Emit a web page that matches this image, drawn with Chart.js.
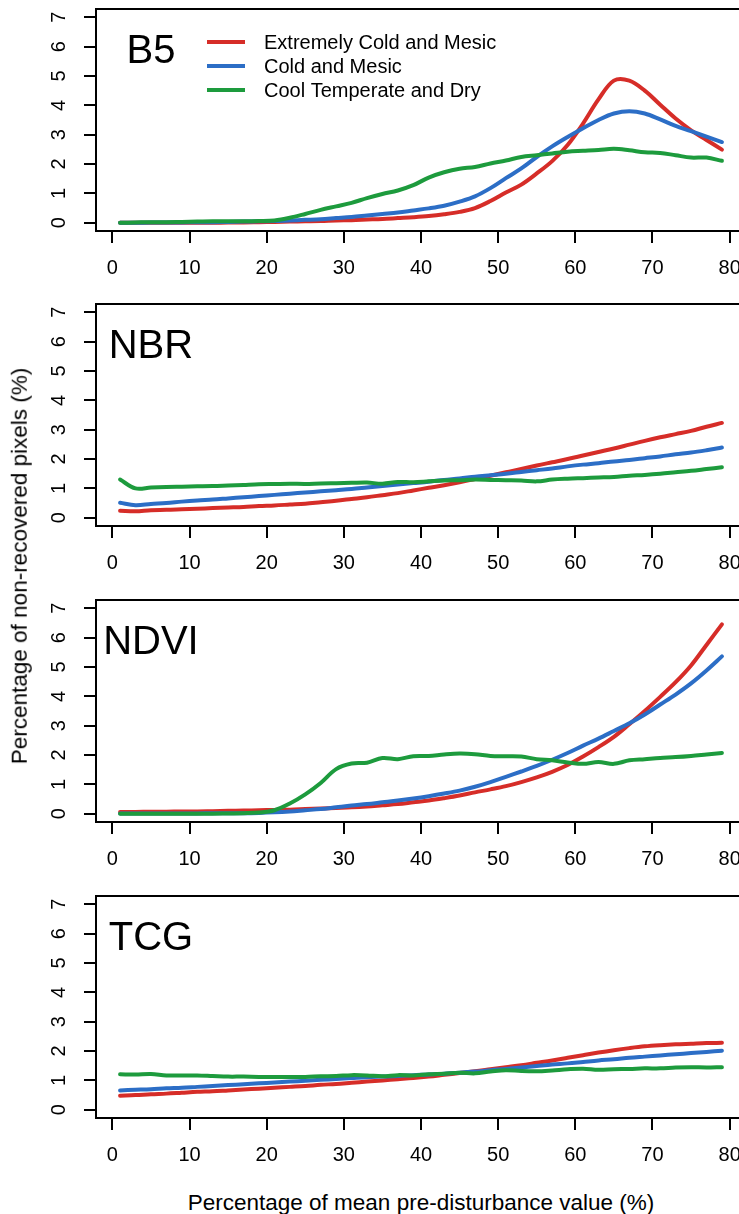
<!DOCTYPE html>
<html>
<head>
<meta charset="utf-8">
<script src="https://cdn.jsdelivr.net/npm/chart.js@4.4.1/dist/chart.umd.min.js"></script>
<style>
  html, body { margin: 0; padding: 0; background: #fff; }
  body { width: 739px; height: 1214px; overflow: hidden; position: relative; font-family: "Liberation Sans", Arial, sans-serif; }
  canvas { position: absolute; left: 0; }
  .title { position: absolute; white-space: nowrap; font-size: 22.5px; line-height: 1; color: #000; }
  #ytitle { left: 20px; top: 566px; transform: translate(-50%, -50%) rotate(-90deg); }
  #xtitle { left: 421px; top: 1203px; transform: translate(-50%, -50%); }
</style>
</head>
<body>
<canvas id="c0" width="760" height="296" style="top:0px"></canvas>
<canvas id="c1" width="760" height="296" style="top:295px"></canvas>
<canvas id="c2" width="760" height="296" style="top:591px"></canvas>
<canvas id="c3" width="760" height="296" style="top:887px"></canvas>
<div class="title" id="ytitle">Percentage of non-recovered pixels (%)</div>
<div class="title" id="xtitle">Percentage of mean pre-disturbance value (%)</div>
<script>
// ---------------- data ----------------
const xValues = [1,3,5,7,9,11,13,15,17,19,21,23,25,27,29,31,33,35,37,39,41,43,45,47,49,51,53,55,57,59,61,63,65,67,69,71,73,75,77,79];
const xTicks = [0,10,20,30,40,50,60,70,80];
const yTicks = [0,1,2,3,4,5,6,7];
const seriesNames = ["Extremely Cold and Mesic", "Cold and Mesic", "Cool Temperate and Dry"];
const panelNames = ["B5", "NBR", "NDVI", "TCG"];

const b5Red   = [0,0,0,0,0,0,0,0.01,0.01,0.02,0.03,0.04,0.05,0.06,0.08,0.09,0.11,0.13,0.16,0.19,0.23,0.29,0.37,0.5,0.74,1.03,1.3,1.68,2.1,2.65,3.38,4.2,4.84,4.84,4.5,4.02,3.55,3.15,2.82,2.49];
const b5Blue  = [0,0,0.01,0.01,0.01,0.02,0.02,0.03,0.04,0.05,0.06,0.08,0.1,0.12,0.16,0.2,0.25,0.3,0.35,0.42,0.49,0.58,0.72,0.9,1.18,1.52,1.85,2.24,2.6,2.92,3.22,3.5,3.72,3.8,3.72,3.52,3.3,3.12,2.93,2.75];
const b5Green = [0,0.01,0.02,0.02,0.03,0.04,0.05,0.05,0.05,0.06,0.08,0.17,0.3,0.44,0.56,0.68,0.84,0.98,1.1,1.28,1.54,1.72,1.84,1.9,2.02,2.12,2.24,2.3,2.36,2.42,2.45,2.48,2.52,2.47,2.4,2.38,2.3,2.22,2.22,2.11];

const nbrRed   = [0.24,0.22,0.26,0.27,0.29,0.31,0.33,0.35,0.37,0.4,0.42,0.45,0.48,0.53,0.58,0.64,0.7,0.77,0.84,0.93,1.02,1.11,1.21,1.32,1.43,1.55,1.66,1.78,1.89,2.0,2.12,2.24,2.36,2.49,2.62,2.74,2.85,2.96,3.1,3.23];
const nbrBlue  = [0.51,0.43,0.47,0.5,0.55,0.59,0.62,0.66,0.7,0.74,0.78,0.82,0.86,0.9,0.94,0.98,1.03,1.08,1.13,1.18,1.23,1.29,1.34,1.4,1.45,1.5,1.56,1.62,1.68,1.75,1.81,1.86,1.92,1.97,2.03,2.09,2.16,2.22,2.3,2.39];
const nbrGreen = [1.3,1.0,1.03,1.05,1.06,1.07,1.08,1.1,1.12,1.14,1.15,1.16,1.15,1.17,1.18,1.19,1.2,1.16,1.22,1.21,1.24,1.27,1.28,1.3,1.29,1.28,1.27,1.24,1.3,1.33,1.35,1.37,1.39,1.43,1.46,1.5,1.55,1.6,1.66,1.72];

const ndviRed   = [0.06,0.06,0.07,0.07,0.08,0.08,0.09,0.1,0.11,0.12,0.13,0.14,0.16,0.18,0.2,0.22,0.25,0.29,0.33,0.39,0.45,0.53,0.62,0.73,0.83,0.94,1.08,1.24,1.43,1.66,1.95,2.27,2.62,3.05,3.5,3.98,4.48,5.05,5.75,6.45];
const ndviBlue  = [0.01,0.01,0.01,0.01,0.01,0.01,0.02,0.02,0.02,0.03,0.05,0.08,0.12,0.16,0.22,0.28,0.33,0.39,0.45,0.52,0.6,0.69,0.79,0.92,1.08,1.26,1.44,1.63,1.84,2.07,2.32,2.56,2.82,3.08,3.38,3.72,4.06,4.44,4.88,5.36];
const ndviGreen = [0,0,0,0,0,0,0,0.01,0.02,0.04,0.12,0.35,0.66,1.05,1.52,1.71,1.74,1.9,1.86,1.96,1.97,2.02,2.05,2.03,1.97,1.96,1.95,1.86,1.82,1.75,1.7,1.76,1.7,1.82,1.86,1.9,1.93,1.97,2.02,2.07];

const tcgRed   = [0.48,0.5,0.53,0.55,0.58,0.61,0.63,0.66,0.69,0.72,0.75,0.78,0.81,0.85,0.88,0.92,0.96,1.0,1.04,1.08,1.13,1.19,1.25,1.31,1.38,1.45,1.52,1.6,1.68,1.77,1.86,1.95,2.03,2.1,2.16,2.2,2.23,2.25,2.27,2.28];
const tcgBlue  = [0.66,0.68,0.7,0.73,0.75,0.78,0.81,0.84,0.87,0.9,0.93,0.96,0.99,1.02,1.05,1.08,1.11,1.13,1.15,1.18,1.2,1.23,1.26,1.3,1.35,1.39,1.44,1.49,1.54,1.58,1.63,1.68,1.72,1.77,1.81,1.85,1.89,1.93,1.97,2.01];
const tcgGreen = [1.21,1.2,1.22,1.17,1.17,1.17,1.15,1.13,1.13,1.12,1.12,1.12,1.12,1.14,1.15,1.18,1.17,1.14,1.18,1.17,1.21,1.23,1.26,1.24,1.3,1.35,1.32,1.31,1.34,1.38,1.4,1.36,1.38,1.39,1.41,1.41,1.44,1.45,1.44,1.45];

// ---------------- styling ----------------
const COLORS = ["#d62d28", "#2c6ec6", "#1d9b3d"];
const FONT = '"Liberation Sans", Arial, sans-serif';

const panelDecor = {
  id: 'panelDecor',
  afterDatasetsDraw(chart, args, opts) {
    const {ctx, chartArea: a, scales} = chart;
    ctx.save();
    ctx.strokeStyle = '#000';
    ctx.lineWidth = 2;
    ctx.strokeRect(a.left, a.top, a.right - a.left, a.bottom - a.top);
    ctx.fillStyle = '#000';
    ctx.font = '40px ' + FONT;
    ctx.textAlign = 'center';
    ctx.textBaseline = 'alphabetic';
    ctx.fillText(opts.name, scales.x.getPixelForValue(5), scales.y.getPixelForValue(6) + 16);
    if (opts.showLegend) {
      ctx.font = '20px ' + FONT;
      ctx.textAlign = 'left';
      ctx.textBaseline = 'middle';
      chart.data.datasets.forEach((ds, i) => {
        const y = a.top + 33 + i * 24;
        ctx.strokeStyle = ds.borderColor;
        ctx.lineWidth = 4;
        ctx.beginPath();
        ctx.moveTo(a.left + 111, y);
        ctx.lineTo(a.left + 149, y);
        ctx.stroke();
        ctx.fillStyle = '#000';
        ctx.fillText(ds.label, a.left + 168, y + 1);
      });
    }
    ctx.restore();
  }
};

function axisGrid() {
  return { display: true, drawOnChartArea: false, drawTicks: true, tickLength: 12, color: '#000', lineWidth: 2 };
}
function noPad(s) { s.paddingTop = 0; s.paddingBottom = 0; s.paddingLeft = 0; s.paddingRight = 0; }

function makeChart(id, name, red, blue, green, showLegend) {
  const series = [red, blue, green];
  const datasets = series.map((vals, i) => ({
    label: seriesNames[i],
    data: xValues.map((x, j) => ({ x: x, y: vals[j] })),
    borderColor: COLORS[i],
    backgroundColor: COLORS[i],
    borderWidth: 4,
    pointRadius: 0,
    fill: false,
    tension: 0.35,
    order: 3 - i
  }));
  return new Chart(document.getElementById(id), {
    type: 'line',
    data: { datasets },
    options: {
      responsive: false,
      animation: false,
      events: [],
      layout: { padding: { top: 9, bottom: 9, left: 0, right: 14 } },
      plugins: {
        legend: { display: false },
        tooltip: { enabled: false },
        title: { display: false },
        panelDecor: { name, showLegend }
      },
      elements: { line: { borderCapStyle: 'round', borderJoinStyle: 'round' } },
      scales: {
        x: {
          type: 'linear', min: -2.12, max: 82.12,
          afterBuildTicks: s => { s.ticks = xTicks.map(v => ({ value: v })); },
          afterFit: s => { s.height = 56; noPad(s); },
          grid: axisGrid(),
          border: { display: false },
          ticks: { autoSkip: false, minRotation: 0, maxRotation: 0, padding: 13, color: '#000', font: { family: FONT, size: 20 } }
        },
        y: {
          type: 'linear', min: -0.28, max: 7.28,
          afterBuildTicks: s => { s.ticks = yTicks.map(v => ({ value: v })); },
          afterFit: s => { s.width = 96; noPad(s); },
          grid: axisGrid(),
          border: { display: false },
          ticks: { autoSkip: false, minRotation: 90, maxRotation: 90, crossAlign: 'center', padding: 19, color: '#000', font: { family: FONT, size: 20 } }
        }
      }
    },
    plugins: [panelDecor]
  });
}

makeChart('c0', panelNames[0], b5Red, b5Blue, b5Green, true);
makeChart('c1', panelNames[1], nbrRed, nbrBlue, nbrGreen, false);
makeChart('c2', panelNames[2], ndviRed, ndviBlue, ndviGreen, false);
makeChart('c3', panelNames[3], tcgRed, tcgBlue, tcgGreen, false);
</script>
</body>
</html>
